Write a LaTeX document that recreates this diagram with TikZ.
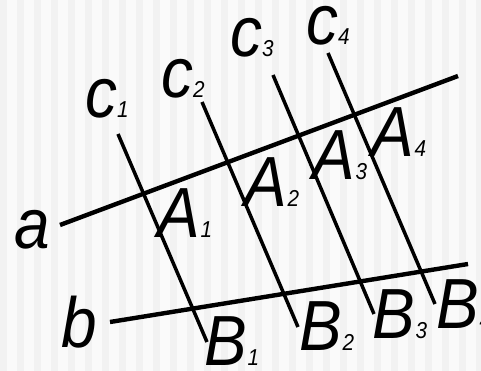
\documentclass[tikz,border=0pt]{standalone}
\usepackage{fontspec}
\newfontfamily\labfont{Liberation Sans}[FakeStretch=0.9]
\usetikzlibrary{positioning}
\newcommand{\ix}[1]{{\fontsize{23}{23}\selectfont #1}}
\definecolor{paper}{RGB}{250,250,250}
\definecolor{stripe}{RGB}{242,242,242}
\tikzset{
  lbl/.style={inner sep=0pt, anchor=base, font=\labfont\itshape\fontsize{71}{71}\selectfont},
  mainline/.style={line width=4.4pt},
  crossline/.style={line width=3.5pt},
}

\begin{document}
\begin{tikzpicture}[x=1pt,y=-1pt]
  \useasboundingbox (0,0) rectangle (481,371);
  \fill[paper] (0,0) rectangle (481,371);
  \foreach \s in {0,17,...,476} \fill[stripe] (\s,0) rectangle ++(7,371);
  % \draw[help lines] (0,0) grid[step=50] (481,371);

  \coordinate (a0) at (60,225);
  \coordinate (a1) at (458,76);
  \coordinate (b0) at (110,322);
  \coordinate (b1) at (468,264);

  \draw[mainline] (a0) -- (a1);
  \draw[mainline] (b0) -- (b1);

  \foreach \i/\tx/\ty/\bx/\by in {1/118/134/207/342, 2/202/102/298/327,
                                  3/273/75/374/314, 4/328/53/435/304} {
    \coordinate (c\i t) at (\tx,\ty);
    \coordinate (c\i b) at (\bx,\by);
    \draw[crossline] (c\i t) -- (c\i b);
  }

  \node[lbl] (la) at (32,248) {a};
  \node[lbl] (lb) at (79,347) {b};
  \foreach \i/\x/\y in {1/107/118, 2/183/98, 3/252/57, 4/328/45}
    \node[lbl] (C\i) at (\x,\y) {c\ix{\i}};
  \foreach \i/\x/\y in {1/185/237, 2/272/207, 3/340/180, 4/399/157}
    \node[lbl] (A\i) at (\x,\y) {A\ix{\i}};
  \foreach \i/\x/\y in {1/232/365, 2/327/350, 3/400/338, 4/464/328}
    \node[lbl] (B\i) at (\x,\y) {B\ix{\i}};
\end{tikzpicture}
\end{document}
